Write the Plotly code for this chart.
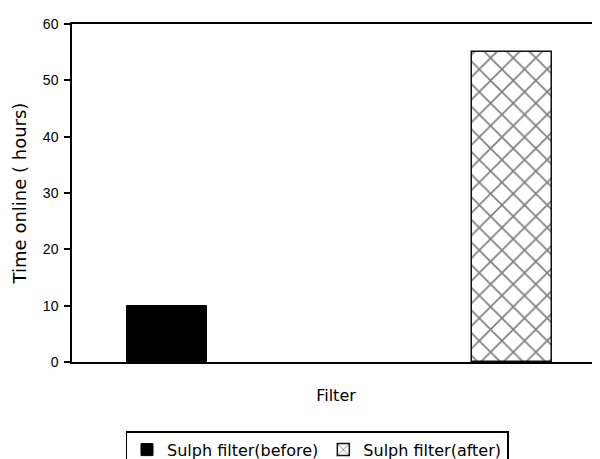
import plotly.graph_objects as go

series_names = ["Sulph filter(before)", "Sulph filter(after)"]
positions = [0, 1]
hours = [10, 55]
y_ticks = [0, 10, 20, 30, 40, 50, 60]

fig = go.Figure()
fig.add_trace(go.Bar(
    name=series_names[0], x=[positions[0]], y=[hours[0]], width=0.23,
    marker=dict(color="black", line=dict(color="black", width=1)),
))
fig.add_trace(go.Bar(
    name=series_names[1], x=[positions[1]], y=[hours[1]], width=0.23,
    marker=dict(color="white", line=dict(color="#111", width=1.5),
                pattern=dict(shape="x", fgcolor="#000", bgcolor="white", size=16, solidity=0.2)),
))

fig.update_layout(
    width=600, height=459,
    margin=dict(l=64, r=8, t=16, b=105, autoexpand=False),
    paper_bgcolor="white", plot_bgcolor="white",
    font=dict(family="Liberation Sans, Arial, sans-serif", color="black", size=14),
    showlegend=True,
    legend=dict(orientation="h", xref="container", yref="container",
                x=0.515, xanchor="center", y=0.078, yanchor="top",
                bordercolor="black", borderwidth=1.5,
                font=dict(size=16, family="DejaVu Sans, sans-serif"),
                itemwidth=30),
    bargap=0,
)
fig.update_xaxes(range=[-0.275, 1.255], showline=True, linecolor="black", linewidth=1.5,
                 mirror=True, showticklabels=False, ticks="", showgrid=False, zeroline=False,
                 automargin=False,
                 title=dict(text="Filter", standoff=27,
                            font=dict(size=16, family="DejaVu Sans, sans-serif")))
fig.update_yaxes(range=[0, 60], tickvals=y_ticks, showline=True, linecolor="black", linewidth=1.5,
                 ticks="outside", ticklen=6, tickwidth=1.5, tickcolor="black",
                 showgrid=False, zeroline=False,
                 tickfont=dict(size=14), ticklabelstandoff=3, automargin=False,
                 title=dict(text="Time online ( hours)", standoff=12,
                            font=dict(size=18, family="DejaVu Sans, sans-serif")))

fig.write_html("out.html")
